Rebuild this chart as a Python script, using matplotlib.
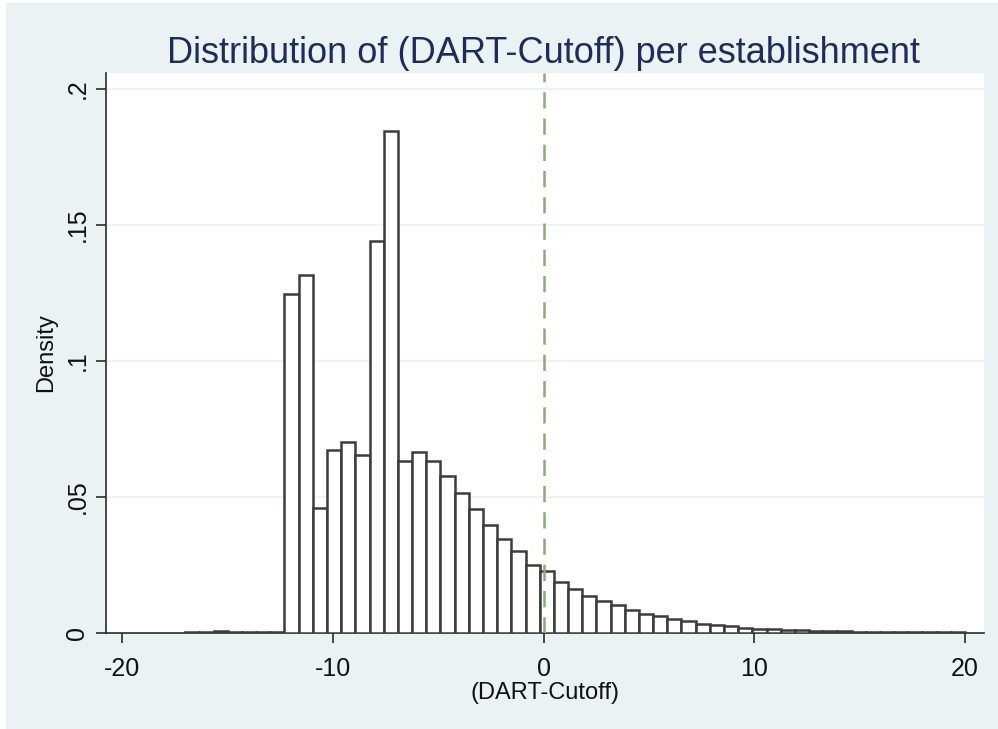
import numpy as np
import matplotlib
matplotlib.use('Agg')
import matplotlib.pyplot as plt
from matplotlib.patches import Rectangle

plt.rcParams['font.family'] = ['Liberation Sans', 'DejaVu Sans']
plt.rcParams['axes.unicode_minus'] = False

# Histogram data: 55 equal bins between the min and max of (DART-Cutoff)
bin_min = -17.0
bin_max = 20.0
density = [
    0.0004, 0.0004, 0.0009, 0.0004, 0.0004, 0.0002, 0.0002,
    0.1247, 0.1317, 0.0461, 0.0674, 0.0704, 0.0655, 0.1442, 0.1845,
    0.0633, 0.0664, 0.0633, 0.0578, 0.0514, 0.0455, 0.0397, 0.0344,
    0.0301, 0.0251, 0.0227, 0.0188, 0.0161, 0.0137, 0.0118, 0.0102,
    0.0085, 0.0070, 0.0061, 0.0050, 0.0043, 0.0034, 0.0028, 0.0026,
    0.0020, 0.0016, 0.0015, 0.0011, 0.0010, 0.0008, 0.0007, 0.0006,
    0.0005, 0.0004, 0.0004, 0.0003, 0.0003, 0.0002, 0.0002, 0.0002,
]
cutoff = 0

x_ticks = [-20, -10, 0, 10, 20]
y_ticks = [0, 0.05, 0.1, 0.15, 0.2]
y_tick_labels = ['0', '.05', '.1', '.15', '.2']

edges = np.linspace(bin_min, bin_max, len(density) + 1)
width = edges[1] - edges[0]

fig = plt.figure(figsize=(9.98, 7.29), dpi=100)
fig.patch.set_facecolor('white')
# Stata-like outer graph region (drawn behind the axes)
fig.patches.append(Rectangle((6 / 998, 0), 992 / 998, 726 / 729,
                             transform=fig.transFigure, facecolor='#EAF2F3',
                             edgecolor='none', zorder=-10))

ax = fig.add_axes([106 / 998, 1 - 633 / 729, 878 / 998, 560 / 729])
ax.set_facecolor('white')

ax.bar(edges[:-1], density, width=width, align='edge', color='white',
       edgecolor='#3c3c3c', linewidth=1.8, zorder=3)

ax.axvline(cutoff, color='#8DAA7A', linestyle=(0, (6.5, 4)), linewidth=1.8, zorder=4)

ax.set_xlim(-20.76, 20.90)
ax.set_ylim(0, 0.2059)

ax.set_xticks(x_ticks)
ax.set_yticks(y_ticks)
ax.set_yticklabels(y_tick_labels, rotation=90, va='center')

for y in y_ticks[1:]:
    ax.axhline(y, color='#EAF2F3', linewidth=1.3, zorder=1)

for side in ['top', 'right']:
    ax.spines[side].set_visible(False)
for side in ['left', 'bottom']:
    ax.spines[side].set_color('#2a2a2a')
    ax.spines[side].set_linewidth(1.2)

ax.tick_params(axis='both', labelsize=18, color='#2a2a2a', width=1.2,
               length=7, labelcolor='#111111')
ax.tick_params(axis='x', pad=10)
ax.tick_params(axis='y', pad=5)

ax.set_xlabel('(DART-Cutoff)', fontsize=17, color='#111111', labelpad=1)
ax.set_ylabel('Density', fontsize=17, color='#111111', labelpad=6)

fig.text(0.545, 1 - 63 / 729, 'Distribution of (DART-Cutoff) per establishment',
         ha='center', va='baseline', fontsize=26, color='#1d2c5b')

fig.savefig('out.png', dpi=100)
